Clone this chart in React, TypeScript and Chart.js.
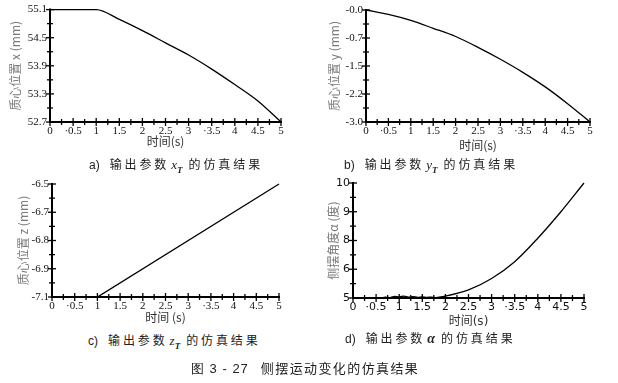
import React, { useEffect, useRef } from 'react';
import { Chart, registerables } from 'chart.js';
Chart.register(...registerables);

// ---- shared time axis ----
const TIME_TICKS = [0, 0.5, 1, 1.5, 2, 2.5, 3, 3.5, 4, 4.5, 5];
const TIME_LABELS = ['0', '·0.5', '1', '1.5', '2', '2.5', '3', '·3.5', '4', '4.5', '5'];
const TIME_MINOR = [0.25, 0.75, 1.25, 1.75, 2.25, 2.75, 3.25, 3.75, 4.25, 4.75];

// ---- a) x_T ----
const A_TIME = [0, 0.5, 1, 1.5, 2, 2.5, 3, 3.5, 4, 4.5, 5];
const A_X = [55.1, 55.1, 55.1, 54.89, 54.65, 54.39, 54.13, 53.83, 53.5, 53.15, 52.7];
const A_TICKS = [52.7, 53.3, 53.9, 54.5, 55.1];
const A_LABELS = ['52.7', '53.3', '53.9', '54.5', '55.1'];
const A_MINOR = [53.0, 53.6, 54.2, 54.8];

// ---- b) y_T ----
const B_TIME = [0, 0.5, 1, 1.5, 2, 2.5, 3, 3.5, 4, 4.5, 5];
const B_Y = [0, -0.12, -0.28, -0.49, -0.71, -1.0, -1.32, -1.67, -2.06, -2.51, -3.0];
const B_TICKS = [-3.0, -2.25, -1.5, -0.75, 0];
const B_LABELS = ['-3.0', '-2.2', '-1.5', '-0.7', '-0.0'];
const B_MINOR = [-2.625, -1.875, -1.125, -0.375];

// ---- c) z_T ----
const C_TIME = [0, 1, 5];
const C_Z = [-7.1, -7.1, -6.5];
const C_TICKS = [-7.1, -6.95, -6.8, -6.65, -6.5];
const C_LABELS = ['-7.1', '-6.9', '-6.8', '-6.7', '-6.5'];
const C_MINOR = [-7.025, -6.875, -6.725, -6.575];

// ---- d) alpha ----
const D_TIME = [0, 0.6, 0.7, 0.8, 0.9, 1.0, 1.1, 1.2, 1.3, 1.4, 1.5, 1.6, 1.7, 1.8, 1.9, 2.0, 2.5, 3.0, 3.5, 4.0, 4.5, 5.0];
const D_ALPHA = [5.0, 5.0, 5.04, 5.02, 5.07, 5.05, 5.08, 5.04, 5.06, 5.03, 5.05, 5.03, 5.04, 5.02, 5.05, 5.08, 5.35, 5.85, 6.58, 7.6, 8.75, 10.0];
const D_TICKS = [5, 6.25, 7.5, 8.75, 10];
const D_LABELS = ['5', '6', '8', '9', '10'];
const D_MINOR = [5.625, 6.875, 8.125, 9.375];

const SERIF = '"Liberation Serif", "Noto Sans CJK SC", serif';
const SANS = '"DejaVu Sans", "Noto Sans CJK SC", sans-serif';
const CJK = '"Noto Sans CJK SC", "Liberation Serif", serif';

const crossTicks = {
  id: 'crossTicks',
  afterDatasetsDraw(chart: any, _args: any, opts: any) {
    const { ctx, chartArea } = chart;
    const xs = chart.scales.x;
    const ys = chart.scales.y;
    const { left, right, top, bottom } = chartArea;
    ctx.save();
    ctx.strokeStyle = '#000';
    ctx.lineWidth = 2;
    ctx.beginPath();
    ctx.moveTo(left, top - 1);
    ctx.lineTo(left, bottom);
    ctx.lineTo(right + 1, bottom);
    ctx.stroke();
    ctx.lineWidth = 1.3;
    const seg = (x1: number, y1: number, x2: number, y2: number) => {
      ctx.beginPath();
      ctx.moveTo(x1, y1);
      ctx.lineTo(x2, y2);
      ctx.stroke();
    };
    (opts.xMajor || []).forEach((v: number) => {
      const p = xs.getPixelForValue(v);
      seg(p, bottom - 4, p, bottom + 4);
    });
    (opts.xMinor || []).forEach((v: number) => {
      const p = xs.getPixelForValue(v);
      seg(p, bottom - 3, p, bottom + 3);
    });
    (opts.yMajor || []).forEach((v: number) => {
      const p = ys.getPixelForValue(v);
      seg(left - 4, p, left + 4, p);
    });
    (opts.yMinor || []).forEach((v: number) => {
      const p = ys.getPixelForValue(v);
      seg(left - 3, p, left + 3, p);
    });
    ctx.restore();
  },
};

type PanelProps = {
  left: number; top: number; w: number; h: number;
  area: { l: number; r: number; t: number; b: number };
  yTitleX: number; xTitleY: number;
  time: number[]; values: number[];
  yTicks: number[]; yLabels: string[]; yMinor: number[];
  yTitle: string; xTitle: string;
  tickFamily: string;
  smooth: boolean;
};

function Panel(p: PanelProps) {
  const ref = useRef<HTMLCanvasElement | null>(null);
  useEffect(() => {
    if (!ref.current) return;
    const fs = 12;
    const lh = fs * 1.2;
    const yMin = Math.min(...p.yTicks);
    const yMax = Math.max(...p.yTicks);
    const labelFor = (ticks: number[], labels: string[]) => (v: any) => {
      const i = ticks.findIndex((t) => Math.abs(t - Number(v)) < 1e-6);
      return i >= 0 ? labels[i] : '';
    };
    const chart = new Chart(ref.current, {
      type: 'line',
      data: {
        datasets: [
          {
            data: p.time.map((t, i) => ({ x: t, y: p.values[i] })),
            borderColor: '#000',
            borderWidth: 1.3,
            pointRadius: 0,
            cubicInterpolationMode: p.smooth ? 'monotone' : 'default',
            tension: 0,
            fill: false,
            clip: 4,
          } as any,
        ],
      },
      options: {
        animation: false,
        responsive: false,
        devicePixelRatio: 1,
        events: [],
        layout: { padding: { left: 0, top: p.area.t, right: p.w - p.area.r, bottom: 0 } },
        plugins: {
          legend: { display: false },
          tooltip: { enabled: false },
          crossTicks: { xMajor: TIME_TICKS, xMinor: TIME_MINOR, yMajor: p.yTicks, yMinor: p.yMinor },
        } as any,
        scales: {
          x: {
            type: 'linear',
            min: 0,
            max: 5,
            grid: { display: false, drawTicks: false },
            border: { display: false },
            afterBuildTicks: (s: any) => { s.ticks = TIME_TICKS.map((v) => ({ value: v })); },
            afterFit: (s: any) => { s.height = p.h - p.area.b; },
            ticks: {
              autoSkip: false, maxRotation: 0, padding: 3,
              color: '#111', font: { family: p.tickFamily, size: 11 },
              callback: labelFor(TIME_TICKS, TIME_LABELS),
            },
            title: {
              display: true, text: p.xTitle, color: '#333',
              font: { family: p.tickFamily === SANS ? SANS : CJK, size: fs, lineHeight: 1.2 },
              padding: { top: 0, bottom: p.h - p.xTitleY - lh / 2 },
            },
          },
          y: {
            type: 'linear',
            min: yMin,
            max: yMax,
            grid: { display: false, drawTicks: false },
            border: { display: false },
            afterBuildTicks: (s: any) => { s.ticks = p.yTicks.map((v) => ({ value: v })); },
            afterFit: (s: any) => { s.width = p.area.l; },
            ticks: {
              autoSkip: false, padding: 3,
              color: '#111', font: { family: p.tickFamily, size: 11 },
              callback: labelFor(p.yTicks, p.yLabels),
            },
            title: {
              display: true, text: p.yTitle, color: '#7a7a7a',
              font: { family: CJK, size: fs, lineHeight: 1.2 },
              padding: { top: p.yTitleX - lh / 2, bottom: 0 },
            },
          },
        },
      } as any,
      plugins: [crossTicks as any],
    });
    return () => chart.destroy();
  }, []);
  return (
    <canvas
      ref={ref}
      width={p.w}
      height={p.h}
      style={{ position: 'absolute', left: p.left, top: p.top, width: p.w, height: p.h }}
    />
  );
}

function Caption(props: { left: number; cy: number; tag: string; sym: React.ReactNode }) {
  const fs = 12;
  return (
    <div
      style={{
        position: 'absolute', left: props.left, top: props.cy - fs / 2 - 1,
        fontSize: fs, lineHeight: `${fs + 2}px`, whiteSpace: 'nowrap',
        fontFamily: CJK, color: '#222', letterSpacing: '2.9px',
      }}
    >
      <span style={{ fontFamily: '"Liberation Sans", sans-serif', letterSpacing: 0, marginRight: 10 }}>{props.tag}</span>
      输出参数{props.sym}的仿真结果
    </div>
  );
}

const sub = (v: string) => (
  <span style={{ fontFamily: SERIF, fontStyle: 'italic', letterSpacing: 0, marginLeft: 2, marginRight: 6, fontSize: 13 }}>
    {v}
    <sub style={{ fontSize: 9, fontStyle: 'italic', fontWeight: 'bold' }}>T</sub>
  </span>
);

export default function App() {
  return (
    <div style={{ position: 'fixed', left: 0, top: 0, width: 618, height: 383, background: '#fff', overflow: 'hidden' }}>
      <Panel
        left={0} top={0} w={300} h={160}
        area={{ l: 50, r: 281, t: 7, b: 122 }} yTitleX={15} xTitleY={141}
        time={A_TIME} values={A_X} yTicks={A_TICKS} yLabels={A_LABELS} yMinor={A_MINOR}
        yTitle="质心位置 x (mm)" xTitle="时间(s)" tickFamily={SERIF} smooth={true}
      />
      <Panel
        left={300} top={0} w={318} h={160}
        area={{ l: 66, r: 290, t: 10, b: 122 }} yTitleX={34} xTitleY={145}
        time={B_TIME} values={B_Y} yTicks={B_TICKS} yLabels={B_LABELS} yMinor={B_MINOR}
        yTitle="质心位置 y (mm)" xTitle="时间(s)" tickFamily={SERIF} smooth={true}
      />
      <Panel
        left={0} top={170} w={300} h={160}
        area={{ l: 52, r: 279, t: 14, b: 127 }} yTitleX={23} xTitleY={147}
        time={C_TIME} values={C_Z} yTicks={C_TICKS} yLabels={C_LABELS} yMinor={C_MINOR}
        yTitle="质心位置 z (mm)" xTitle="时间 (s)" tickFamily={SERIF} smooth={false}
      />
      <Panel
        left={300} top={170} w={318} h={160}
        area={{ l: 53, r: 284, t: 13, b: 128 }} yTitleX={33} xTitleY={152}
        time={D_TIME} values={D_ALPHA} yTicks={D_TICKS} yLabels={D_LABELS} yMinor={D_MINOR}
        yTitle="侧摆角度α (度)" xTitle="时间(s)" tickFamily={SANS} smooth={true}
      />
      <Caption left={89} cy={164} tag="a)" sym={sub('x')} />
      <Caption left={344} cy={164} tag="b)" sym={sub('y')} />
      <Caption left={88} cy={340} tag="c)" sym={sub('z')} />
      <Caption left={345} cy={338} tag="d)" sym={
        <span style={{ fontFamily: SERIF, fontStyle: 'italic', fontWeight: 'bold', fontSize: 14, marginLeft: 2, marginRight: 6, letterSpacing: 0 }}>α</span>
      } />
      <div
        style={{
          position: 'absolute', left: 191, top: 360, fontSize: 13, lineHeight: '15px',
          whiteSpace: 'nowrap', fontFamily: CJK, color: '#222', letterSpacing: '1.4px',
        }}
      >
        <span style={{ fontFamily: '"Liberation Sans", sans-serif', letterSpacing: '1px' }}>图 3 - 27</span>
        <span style={{ marginLeft: 12 }}>侧摆运动变化的仿真结果</span>
      </div>
    </div>
  );
}
